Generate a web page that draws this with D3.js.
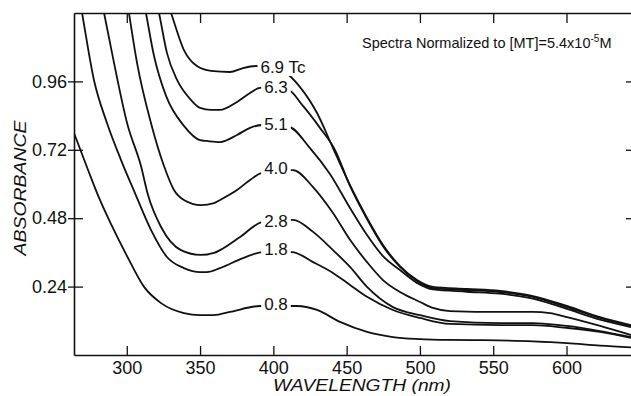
<!DOCTYPE html>
<html><head><meta charset="utf-8">
<script src="https://cdn.jsdelivr.net/npm/d3@7"></script>
<style>body{margin:0;background:#fff}svg{display:block}</style>
</head><body>
<svg id="c" width="631" height="396"></svg>
<script>
// ---- data ----
const xTicks = [300, 350, 400, 450, 500, 550, 600];
const yTicks = [0.24, 0.48, 0.72, 0.96];
const seriesNames = ["0.8", "1.8", "2.8", "4.0", "5.1", "6.3", "6.9 Tc"];

const wl08 = [264.0, 273.6, 281.7, 289.2, 300.2, 311.8, 323.4, 339.0, 350.0, 359.5, 370.4, 390.9, 416.1, 429.8, 445.5, 463.9, 481.6, 500.1, 520.5, 543.0, 577.1, 600.3, 622.9, 644.0];
const abs08 = [0.779, 0.649, 0.544, 0.460, 0.347, 0.239, 0.182, 0.147, 0.140, 0.140, 0.151, 0.172, 0.172, 0.158, 0.116, 0.081, 0.063, 0.056, 0.053, 0.052, 0.048, 0.042, 0.033, 0.027];

const wl18 = [267.8, 269.5, 277.6, 286.5, 296.1, 305.6, 316.5, 327.4, 339.0, 350.0, 354.7, 363.6, 379.3, 392.9, 412.7, 427.1, 440.7, 452.3, 463.9, 481.6, 500.1, 520.5, 554.6, 577.1, 600.3, 622.9, 644.0];
const abs18 = [1.25, 1.200, 0.965, 0.814, 0.684, 0.568, 0.439, 0.344, 0.305, 0.291, 0.291, 0.305, 0.340, 0.361, 0.361, 0.326, 0.288, 0.246, 0.204, 0.158, 0.130, 0.109, 0.105, 0.105, 0.095, 0.081, 0.060];

const wl28 = [282.6, 284.5, 291.3, 300.2, 309.7, 314.5, 323.4, 337.0, 350.6, 359.5, 363.6, 377.3, 392.9, 413.4, 427.1, 440.7, 452.3, 463.9, 481.6, 500.1, 520.5, 554.6, 577.1, 600.3, 622.9, 644.0];
const abs28 = [1.25, 1.200, 1.025, 0.814, 0.663, 0.561, 0.449, 0.368, 0.351, 0.358, 0.368, 0.414, 0.467, 0.474, 0.432, 0.368, 0.309, 0.239, 0.168, 0.140, 0.119, 0.112, 0.112, 0.102, 0.084, 0.063];

const wl40 = [300.0, 301.5, 307.0, 316.5, 325.4, 332.2, 339.0, 350.6, 359.5, 363.6, 375.2, 384.1, 392.3, 413.4, 427.1, 440.7, 452.3, 463.9, 474.8, 486.4, 500.1, 508.9, 520.5, 554.6, 577.1, 588.7, 600.3, 622.9, 644.0];
const abs40 = [1.25, 1.200, 1.025, 0.814, 0.663, 0.579, 0.544, 0.526, 0.533, 0.544, 0.579, 0.614, 0.639, 0.649, 0.589, 0.498, 0.404, 0.326, 0.263, 0.221, 0.186, 0.165, 0.154, 0.151, 0.151, 0.147, 0.133, 0.102, 0.070];

const wl51 = [311.3, 313.1, 318.6, 326.8, 339.0, 350.0, 354.7, 363.6, 375.2, 384.1, 392.3, 410.7, 425.0, 438.6, 452.3, 463.9, 474.8, 486.4, 498.0, 508.9, 532.1, 554.6, 577.1, 600.3, 622.9, 644.0];
const abs51 = [1.25, 1.200, 1.049, 0.909, 0.804, 0.754, 0.751, 0.747, 0.772, 0.797, 0.807, 0.800, 0.726, 0.635, 0.516, 0.421, 0.347, 0.298, 0.253, 0.230, 0.222, 0.215, 0.198, 0.162, 0.124, 0.098];

const wl63 = [319.9, 322.0, 327.4, 334.3, 343.8, 350.0, 357.5, 363.6, 375.2, 384.1, 390.9, 410.0, 420.2, 431.8, 442.1, 452.3, 463.9, 474.8, 486.4, 498.0, 508.9, 532.1, 554.6, 577.1, 600.3, 622.9, 644.0];
const abs63 = [1.25, 1.200, 1.060, 0.965, 0.895, 0.867, 0.860, 0.860, 0.888, 0.919, 0.937, 0.930, 0.874, 0.797, 0.719, 0.593, 0.477, 0.382, 0.309, 0.260, 0.235, 0.228, 0.221, 0.204, 0.168, 0.130, 0.102];

const wl69 = [326.8, 330.2, 339.0, 347.9, 357.5, 370.4, 379.3, 388.8, 408.6, 418.2, 429.8, 440.7, 452.3, 463.9, 474.8, 486.4, 498.0, 508.9, 532.1, 554.6, 577.1, 600.3, 622.9, 644.0];
const abs69 = [1.25, 1.200, 1.070, 1.014, 0.997, 0.993, 1.007, 1.014, 0.989, 0.940, 0.849, 0.726, 0.596, 0.481, 0.386, 0.312, 0.263, 0.239, 0.232, 0.225, 0.207, 0.172, 0.133, 0.105];

// label anchors in data units (wavelength, absorbance)
const labelWl  = [401.8, 401.8, 401.8, 401.8, 401.8, 401.8, 391.2];
const labelAbs = [0.179, 0.372, 0.470, 0.656, 0.811, 0.940, 1.011];

const wlSets = [wl08, wl18, wl28, wl40, wl51, wl63, wl69];
const absSets = [abs08, abs18, abs28, abs40, abs51, abs63, abs69];

// ---- drawing ----
const FONT = "'Liberation Sans', Arial, sans-serif";
const svg = d3.select("#c");
const x = d3.scaleLinear().domain([264, 644]).range([74, 631]);
const y = d3.scaleLinear().domain([0, 1.2]).range([355, 13]);

svg.append("defs").append("clipPath").attr("id", "clip")
  .append("rect").attr("x", 74).attr("y", 13).attr("width", 557).attr("height", 342);

const line = d3.line().x(d => x(d[0])).y(d => y(d[1])).curve(d3.curveMonotoneX);
const curves = svg.append("g").attr("clip-path", "url(#clip)");
wlSets.forEach((wl, i) => {
  const pts = wl.map((w, j) => [w, absSets[i][j]]);
  curves.append("path").attr("d", line(pts)).attr("fill", "none")
    .attr("stroke", "#111").attr("stroke-width", 1.8).attr("stroke-linejoin", "round");
});

// curve labels with white knock-out
const lg = svg.append("g");
seriesNames.forEach((name, i) => {
  const g = lg.append("g");
  const t = g.append("text")
    .attr("x", x(labelWl[i])).attr("y", y(labelAbs[i]))
    .attr("dy", "0.36em")
    .attr("text-anchor", i === 6 ? "start" : "middle")
    .attr("font-family", FONT).attr("font-size", 17).attr("fill", "#111")
    .text(name);
  const b = t.node().getBBox();
  g.insert("rect", "text").attr("x", b.x - 3).attr("y", b.y + 2)
    .attr("width", b.width + 6).attr("height", b.height - 3).attr("fill", "#fff");
});

// axes
const axStyle = g => {
  g.selectAll("path.domain").attr("stroke", "#111").attr("stroke-width", 1.6);
  g.selectAll(".tick line").attr("stroke", "#111").attr("stroke-width", 1.3);
  g.selectAll(".tick text").attr("font-family", FONT).attr("font-size", 18).attr("fill", "#111");
};

svg.append("g").attr("transform", "translate(0,355)")
  .call(d3.axisBottom(x).tickValues(xTicks).tickSizeInner(-9).tickSizeOuter(0).tickPadding(6))
  .call(axStyle);

svg.append("g").attr("transform", "translate(0,13)")
  .call(d3.axisTop(x).tickValues(xTicks).tickSizeInner(-10).tickSizeOuter(0).tickFormat(""))
  .call(axStyle);

svg.append("g").attr("transform", "translate(74,0)")
  .call(d3.axisLeft(y).tickValues(yTicks).tickSizeInner(6).tickSizeOuter(0).tickPadding(1).tickFormat(d3.format(".2f")))
  .call(axStyle)
  .call(g => g.selectAll(".tick line").attr("x1", 9));

svg.append("g").attr("transform", "translate(631,0)")
  .call(d3.axisRight(y).tickValues(yTicks).tickSizeInner(-5).tickSizeOuter(0).tickFormat(""))
  .call(axStyle)
  .call(g => g.select("path.domain").remove());

// axis titles
svg.append("text").attr("x", 362).attr("y", 391).attr("text-anchor", "middle")
  .attr("font-family", FONT).attr("font-size", 17).attr("font-style", "italic").attr("fill", "#111")
  .attr("textLength", 178).attr("lengthAdjust", "spacingAndGlyphs")
  .text("WAVELENGTH (nm)");

svg.append("text").attr("transform", "translate(26,188) rotate(-90)").attr("text-anchor", "middle")
  .attr("font-family", FONT).attr("font-size", 17).attr("font-style", "italic").attr("fill", "#111")
  .attr("textLength", 135).attr("lengthAdjust", "spacingAndGlyphs")
  .text("ABSORBANCE");

// annotation
const ann = svg.append("text").attr("x", 362).attr("y", 48)
  .attr("font-family", FONT).attr("font-size", 14.5).attr("fill", "#111");
ann.append("tspan").text("Spectra Normalized to [MT]=5.4x10");
ann.append("tspan").attr("font-size", 10).attr("dy", -6).text("-5");
ann.append("tspan").attr("dy", 6).text("M");
</script>
</body></html>
